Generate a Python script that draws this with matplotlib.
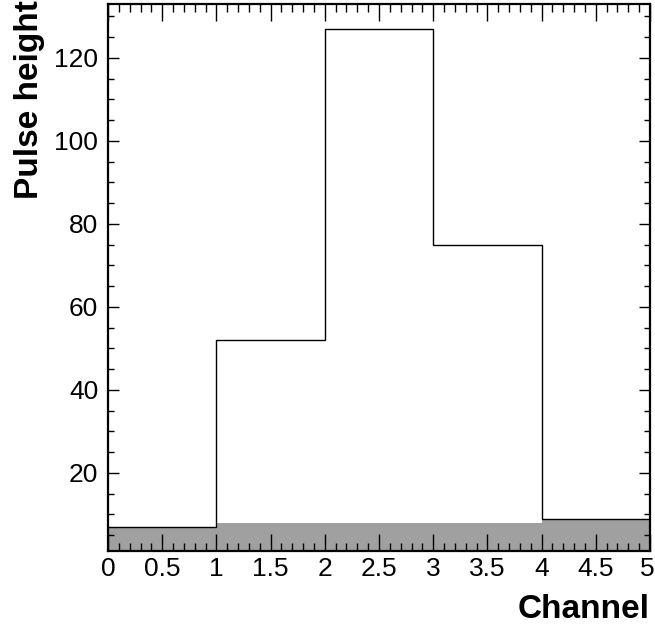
import matplotlib
matplotlib.use("Agg")
import matplotlib.pyplot as plt
import matplotlib.transforms as mtransforms
from matplotlib.ticker import MultipleLocator
import numpy as np

bin_edges = [0, 1, 2, 3, 4, 5]
signal = [7, 52, 127, 75, 9]
background = [7, 8, 8, 8, 9]
xticks = [0, 0.5, 1, 1.5, 2, 2.5, 3, 3.5, 4, 4.5, 5]
xticklabels = ["0", "0.5", "1", "1.5", "2", "2.5", "3", "3.5", "4", "4.5", "5"]
yticks = [20, 40, 60, 80, 100, 120]

plt.rcParams['font.family'] = ['Liberation Sans', 'DejaVu Sans']

fig = plt.figure(figsize=(6.55, 6.32), dpi=100)
ax = fig.add_axes([108/655, 81/632, 542/655, 547/632])

ax.stairs(background, bin_edges, fill=True, color='#a0a0a0', baseline=0, zorder=1)
ax.stairs(signal, bin_edges, color='black', linewidth=1.0, baseline=None, zorder=2)

ax.set_xlim(0, 5)
ax.set_ylim(1.2, 133)

ax.set_xticks(xticks)
ax.set_xticklabels(xticklabels)
ax.set_yticks(yticks)
ax.xaxis.set_minor_locator(MultipleLocator(0.1))
ax.yaxis.set_minor_locator(MultipleLocator(5))

ax.tick_params(axis='x', which='major', direction='in', length=12, width=1.0,
               top=True, bottom=True, labelsize=19, pad=4)
ax.tick_params(axis='x', which='minor', direction='in', length=6, width=1.0,
               top=True, bottom=True)
ax.tick_params(axis='y', which='major', direction='in', length=8, width=1.0,
               left=True, right=True, labelsize=19, pad=7)
ax.tick_params(axis='y', which='minor', direction='in', length=4.5, width=1.0,
               left=True, right=True)

# nudge the last x tick label so it stays inside the figure
last = ax.get_xticklabels()[-1]
last.set_transform(last.get_transform() +
                   mtransforms.ScaledTranslation(-3/100, 0, fig.dpi_scale_trans))

for s in ax.spines.values():
    s.set_linewidth(1.6)
    s.set_zorder(5)

fig.text(650/655, 1 - 610/632, "Channel", ha='right', va='center',
         fontsize=24, fontweight='bold')
fig.text(30/655, 1 - 0/632, "Pulse height", ha='center', va='top',
         rotation=90, fontsize=24, fontweight='bold')

fig.savefig("out.png", dpi=100)
